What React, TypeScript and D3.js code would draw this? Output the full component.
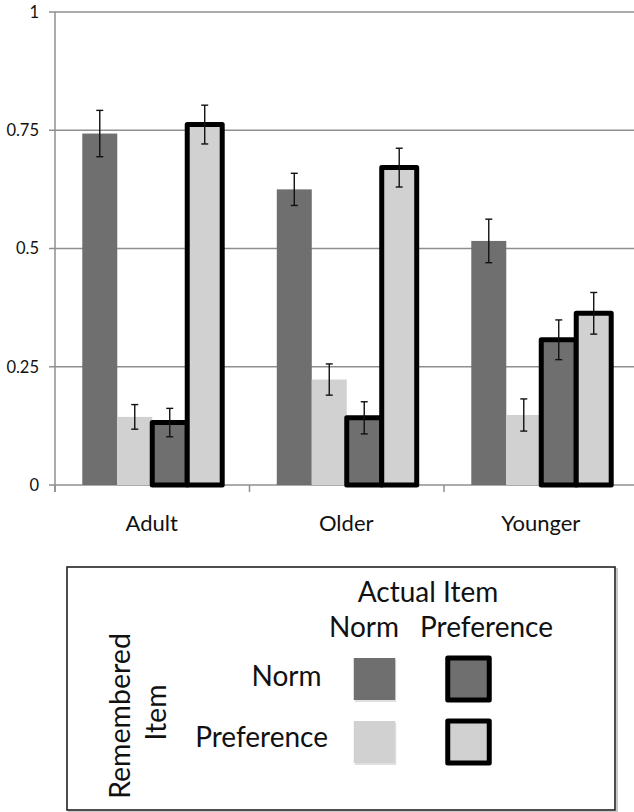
import * as d3 from 'd3';

const groups = ['Adult', 'Older', 'Younger'];
// series: remembered item / actual item
const series = ['normNorm', 'prefNorm', 'normPref', 'prefPref'];
const seriesFill = ['#6f6f6f', '#d1d1d1', '#6f6f6f', '#d1d1d1'];
const seriesOutlined = [false, false, true, true];

const values = [
  [0.743, 0.144, 0.132, 0.762],
  [0.625, 0.223, 0.142, 0.671],
  [0.516, 0.148, 0.307, 0.363],
];
const errors = [
  [0.049, 0.026, 0.030, 0.041],
  [0.034, 0.033, 0.034, 0.041],
  [0.046, 0.034, 0.042, 0.044],
];

const yTicks = [0, 0.25, 0.5, 0.75, 1];
const yTickLabels = ['0', '0.25', '0.5', '0.75', '1'];

const legendTitle = 'Actual Item';
const legendCols = ['Norm', 'Preference'];
const legendRows = ['Norm', 'Preference'];
const legendSide = ['Remembered', 'Item'];

const W = 634;
const H = 812;
const FONT = 'Lato, "Open Sans", sans-serif';

export default function App() {
  const x0 = d3.scaleBand().domain(groups).range([55, 638.5]).padding(0);
  const x1 = d3.scaleBand().domain(series).range([0, x0.bandwidth()]).paddingInner(0).paddingOuter(0.78);
  const y = d3.scaleLinear().domain([0, 1]).range([485, 12]);

  const bars = groups.flatMap((g, gi) =>
    series.map((s, si) => ({
      g, s, si,
      v: values[gi][si],
      e: errors[gi][si],
      x: (x0(g) ?? 0) + (x1(s) ?? 0),
    }))
  );
  const bw = x1.bandwidth();

  // legend layout
  const colX = [374.5, 468.5];
  const rowY = [679, 742];
  const sw = 41.5;

  return (
    <div style={{ position: 'absolute', left: 0, top: 0 }}>
      <svg width={W} height={H} style={{ display: 'block', background: '#fff' }}>
        {/* grid */}
        {yTicks.map((t, i) => (
          <g key={t}>
            <line x1={49} x2={W} y1={y(t)} y2={y(t)} stroke="#8f8f8f" strokeWidth={1.5} />
            <text x={39} y={y(t)} dy="0.35em" textAnchor="end" fontFamily={FONT} fontSize={16.5} fill="#111">
              {yTickLabels[i]}
            </text>
          </g>
        ))}
        <line x1={55} x2={55} y1={y(1)} y2={y(0) + 7} stroke="#8f8f8f" strokeWidth={1.5} />
        {groups.map((g) => (
          <line key={g} x1={x0(g)} x2={x0(g)} y1={y(0)} y2={y(0) + 7} stroke="#8f8f8f" strokeWidth={1.5} />
        ))}

        {/* plain bars */}
        {bars.filter((b) => !seriesOutlined[b.si]).map((b) => (
          <rect key={b.g + b.s} x={b.x} y={y(b.v)} width={bw} height={y(0) - y(b.v)} fill={seriesFill[b.si]} />
        ))}
        {/* outlined bars */}
        {bars.filter((b) => seriesOutlined[b.si]).map((b) => (
          <rect key={b.g + b.s} x={b.x} y={y(b.v)} width={bw} height={y(0) - y(b.v)}
            fill={seriesFill[b.si]} stroke="#000" strokeWidth={5} strokeLinejoin="round" />
        ))}

        {/* error bars */}
        {bars.map((b) => {
          const cx = b.x + bw / 2;
          return (
            <g key={'e' + b.g + b.s} stroke="#111" strokeWidth={1.4}>
              <line x1={cx} x2={cx} y1={y(b.v + b.e)} y2={y(b.v - b.e)} />
              <line x1={cx - 3.5} x2={cx + 3.5} y1={y(b.v + b.e)} y2={y(b.v + b.e)} />
              <line x1={cx - 3.5} x2={cx + 3.5} y1={y(b.v - b.e)} y2={y(b.v - b.e)} />
            </g>
          );
        })}

        {/* category labels */}
        {groups.map((g) => (
          <text key={'l' + g} x={(x0(g) ?? 0) + x0.bandwidth() / 2 - 0.5} y={530.5} textAnchor="middle"
            fontFamily={FONT} fontSize={22} fill="#111">
            {g}
          </text>
        ))}

        {/* legend box */}
        <rect x={69} y={569} width={548} height={243} fill="none" stroke="#c8c8c8" strokeWidth={2} />
        <rect x={67} y={567} width={548} height={243} fill="#fff" stroke="#222" strokeWidth={1.6} />

        <text x={428} y={601.5} textAnchor="middle" fontFamily={FONT} fontSize={28} fill="#111">{legendTitle}</text>
        {legendCols.map((c, i) => (
          <text key={'c' + i} x={i === 0 ? 364 : 486.5} y={636.5} textAnchor="middle" fontFamily={FONT} fontSize={28} fill="#111">{c}</text>
        ))}
        {legendRows.map((r, i) => (
          <text key={'r' + i} x={i === 0 ? 321.5 : 328} y={i === 0 ? 686 : 746.5} textAnchor="end" fontFamily={FONT} fontSize={28} fill="#111">{r}</text>
        ))}
        <text transform="translate(130,716) rotate(-90)" textAnchor="middle" fontFamily={FONT} fontSize={28.5} fill="#111">{legendSide[0]}</text>
        <text transform="translate(166,712.5) rotate(-90)" textAnchor="middle" fontFamily={FONT} fontSize={28.5} fill="#111">{legendSide[1]}</text>

        {legendRows.map((r, ri) =>
          legendCols.map((c, ci) => {
            const si = ci * 2 + ri;
            const cx = colX[ci];
            const cy = rowY[ri];
            return (
              <g key={'s' + ri + ci}>
                <rect x={cx - sw / 2 + 1} y={cy - 21 + 2} width={sw} height={42} fill="#000" opacity={0.12} />
                <rect x={cx - sw / 2} y={cy - 21} width={sw} height={42} fill={seriesFill[si]}
                  stroke={seriesOutlined[si] ? '#000' : 'none'} strokeWidth={5} strokeLinejoin="round" />
              </g>
            );
          })
        )}
      </svg>
    </div>
  );
}
